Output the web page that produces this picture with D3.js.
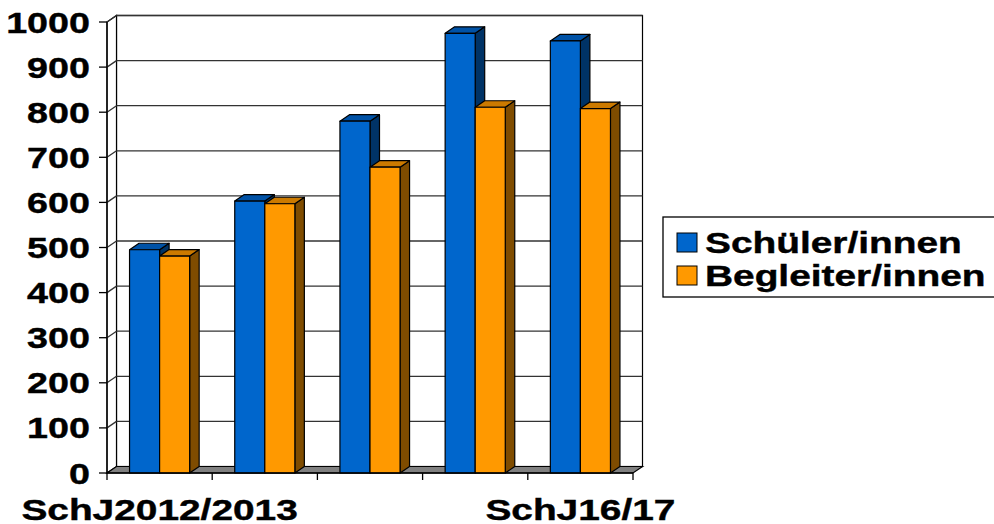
<!DOCTYPE html>
<html>
<head>
<meta charset="utf-8">
<script src="https://cdn.jsdelivr.net/npm/d3@7"></script>
<style>
  html, body { margin: 0; padding: 0; background: #fff; }
  svg { display: block; }
  text { font-family: "Liberation Sans", Arial, sans-serif; font-weight: bold; fill: #000; stroke: #000; stroke-width: 0.4px; }
</style>
</head>
<body>
<svg id="chart" width="994" height="524"></svg>
<script>
// School years on the x axis (only the first and last are labelled)
const categories = ["SchJ2012/2013", "SchJ2013/2014", "SchJ2014/2015", "SchJ2015/2016", "SchJ16/17"];
const tickLabels = ["SchJ2012/2013", "", "", "", "SchJ16/17"];
const seriesNames = ["Schüler/innen", "Begleiter/innen"];
const schueler = [495, 603, 780, 975, 958];
const begleiter = [481, 597, 678, 811, 808];
const yTicks = [0, 100, 200, 300, 400, 500, 600, 700, 800, 900, 1000];

const colors = {
  "Schüler/innen":   { front: "#0066CC", top: "#0052A6", side: "#003366" },
  "Begleiter/innen": { front: "#FF9900", top: "#CC7A00", side: "#7F4C00" }
};

const svg = d3.select("#chart");
const W = 994, H = 524;
svg.append("rect").attr("width", W).attr("height", H).attr("fill", "#fff");

// front plane of the plot and the 3D depth offset
const x0 = 107, x1 = 633;
const DX = 9.5, DY = 6.5;
const x = d3.scaleBand().domain(categories).range([x0, x1]).paddingInner(0).paddingOuter(0);
const xs = d3.scaleBand().domain(seriesNames).range([0, x.bandwidth()]).paddingInner(0).paddingOuter(0.75);
const y = d3.scaleLinear().domain([0, 1000]).range([473, 22]);

const g = svg.append("g");

// back wall
g.append("rect")
  .attr("x", x0 + DX).attr("y", y(1000) - DY)
  .attr("width", x1 - x0).attr("height", y(0) - y(1000))
  .attr("fill", "#fff").attr("stroke", "#000").attr("stroke-width", 1.2);

// left wall
g.append("path")
  .attr("d", `M${x0},${y(0)} L${x0},${y(1000)} L${x0 + DX},${y(1000) - DY} L${x0 + DX},${y(0) - DY} Z`)
  .attr("fill", "#fff").attr("stroke", "#000").attr("stroke-width", 1.2);

// gridlines on back wall and left wall
yTicks.forEach(t => {
  if (t === 0) return;
  const yf = y(t), yb = y(t) - DY;
  g.append("line").attr("x1", x0 + DX).attr("x2", x1 + DX).attr("y1", yb).attr("y2", yb)
    .attr("stroke", "#333").attr("stroke-width", 1.3);
  g.append("line").attr("x1", x0).attr("x2", x0 + DX).attr("y1", yf).attr("y2", yb)
    .attr("stroke", "#333").attr("stroke-width", 1.3);
});

// floor
g.append("path")
  .attr("d", `M${x0},${y(0)} L${x1},${y(0)} L${x1 + DX},${y(0) - DY} L${x0 + DX},${y(0) - DY} Z`)
  .attr("fill", "#808080").attr("stroke", "#000").attr("stroke-width", 1.2);

// bars
const bars = g.append("g");
categories.forEach((c, i) => {
  [["Schüler/innen", schueler[i]], ["Begleiter/innen", begleiter[i]]].forEach(([s, v]) => {
    const bx = x(c) + xs(s), bw = xs.bandwidth();
    const yt = y(v), yb = y(0);
    const col = colors[s];
    const bg = bars.append("g").attr("stroke", "#000").attr("stroke-width", 1.2).attr("stroke-linejoin", "round");
    bg.append("path")
      .attr("d", `M${bx + bw},${yb} L${bx + bw},${yt} L${bx + bw + DX},${yt - DY} L${bx + bw + DX},${yb - DY} Z`)
      .attr("fill", col.side);
    bg.append("path")
      .attr("d", `M${bx},${yt} L${bx + DX},${yt - DY} L${bx + bw + DX},${yt - DY} L${bx + bw},${yt} Z`)
      .attr("fill", col.top);
    bg.append("rect").attr("x", bx).attr("y", yt).attr("width", bw).attr("height", yb - yt)
      .attr("fill", col.front);
  });
});

// value axis
const ax = svg.append("g");
ax.append("line").attr("x1", x0).attr("x2", x0).attr("y1", y(1000)).attr("y2", y(0) + 7)
  .attr("stroke", "#000").attr("stroke-width", 1.3);
yTicks.forEach(t => {
  ax.append("line").attr("x1", x0 - 8).attr("x2", x0).attr("y1", y(t)).attr("y2", y(t))
    .attr("stroke", "#000").attr("stroke-width", 1.3);
  ax.append("text")
    .attr("transform", `translate(90,${y(t) + 10.5}) scale(1.3,1)`)
    .attr("text-anchor", "end").attr("font-size", 29)
    .text(t);
});

// category axis
ax.append("line").attr("x1", x0).attr("x2", x1).attr("y1", y(0)).attr("y2", y(0))
  .attr("stroke", "#000").attr("stroke-width", 1.3);
categories.forEach((c, i) => {
  const xl = x(c);
  ax.append("line").attr("x1", xl + x.bandwidth()).attr("x2", xl + x.bandwidth())
    .attr("y1", y(0)).attr("y2", y(0) + 7).attr("stroke", "#000").attr("stroke-width", 1.3);
  if (tickLabels[i]) {
    ax.append("text")
      .attr("transform", `translate(${xl + x.bandwidth() / 2},519.5) scale(1.34,1)`)
      .attr("text-anchor", "middle").attr("font-size", 29)
      .text(tickLabels[i]);
  }
});

// legend
const lg = svg.append("g");
lg.append("rect").attr("x", 663).attr("y", 217).attr("width", 400).attr("height", 80)
  .attr("fill", "#fff").attr("stroke", "#000").attr("stroke-width", 1.3);
seriesNames.forEach((s, i) => {
  const yy = 233 + i * 33;
  lg.append("rect").attr("x", 677).attr("y", yy).attr("width", 20).attr("height", 19)
    .attr("fill", colors[s].front).attr("stroke", "#000").attr("stroke-width", 1);
  lg.append("text")
    .attr("transform", `translate(705,${yy + 19.5}) scale(1.34,1)`)
    .attr("font-size", 29)
    .text(s);
});
</script>
</body>
</html>
